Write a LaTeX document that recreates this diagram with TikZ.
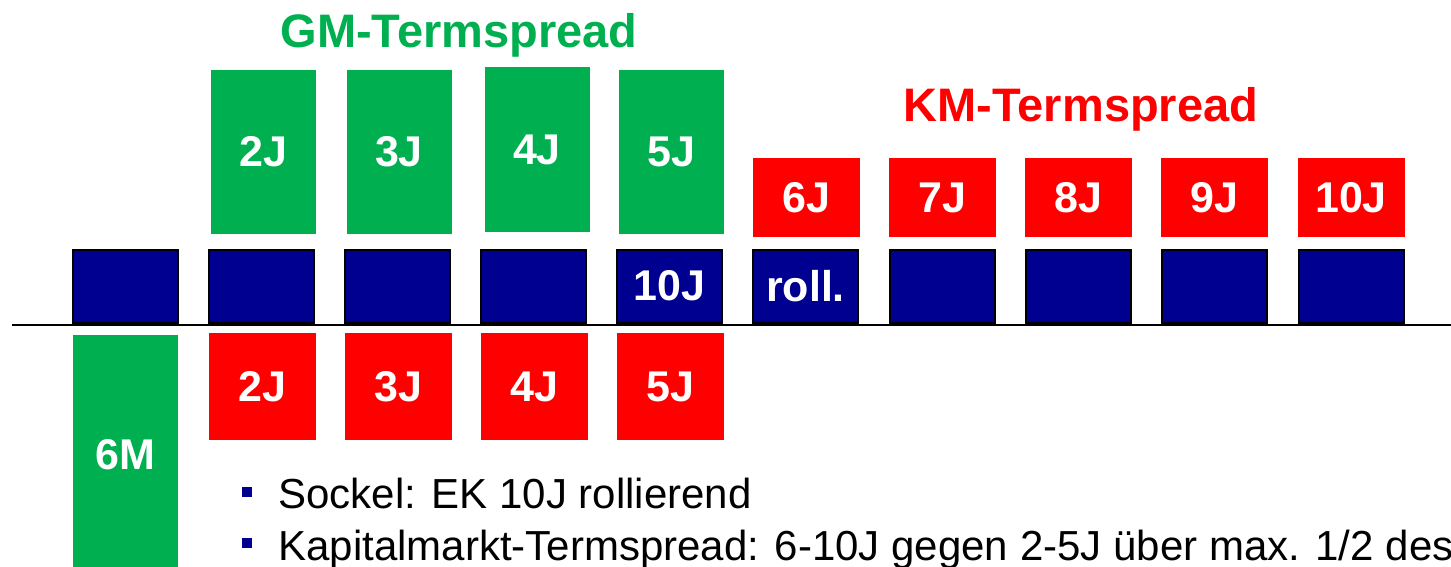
\documentclass[tikz,border=0pt]{standalone}
\usepackage{fontspec}
\setmainfont{Liberation Sans}
\definecolor{gmgreen}{RGB}{0,176,80}
\definecolor{kmred}{RGB}{255,0,0}
\definecolor{navyblue}{RGB}{0,0,144}
\begin{document}
\begin{tikzpicture}[x=1pt,y=-1pt,
  lbl/.style={font=\fontsize{43}{50}\selectfont\bfseries, text=white},
  boxbase/.style={inner sep=0pt, outer sep=0pt, lbl},
  gbox/.style={boxbase, fill=gmgreen, minimum width=105pt},
  rbox/.style={boxbase, fill=kmred, minimum width=107pt},
  bbox/.style={boxbase, fill=navyblue, draw=black, line width=2pt, minimum width=105pt, minimum height=73pt},
  title/.style={font=\fontsize{47}{55}\selectfont\bfseries, anchor=base},
  bullettext/.style={font=\fontsize{42}{50}\selectfont, anchor=base west, text=black},
  bulletsq/.style={fill=navyblue, inner sep=0pt, minimum size=10pt}
]
\clip (0,0) rectangle (1451,567);
% titles
\node[title, text=gmgreen] (gmt) at (459,48) {GM-Termspread};
\node[title, text=kmred] (kmt) at (1081,122) {KM-Termspread};
% top green boxes
\node[gbox, minimum height=164pt] (g2) at (263.5,152) {2J};
\node[gbox, minimum height=164pt] (g3) at (399,152) {3J};
\node[gbox, minimum height=165pt] (g4) at (537,149.5) {4J};
\node[gbox, minimum height=164pt] (g5) at (671,152) {5J};
% top red boxes
\node[rbox, minimum height=79pt] (r6) at (806.5,197.5) {6J};
\node[rbox, minimum height=79pt] (r7) at (942.5,197.5) {7J};
\node[rbox, minimum height=79pt] (r8) at (1078.5,197.5) {8J};
\node[rbox, minimum height=79pt] (r9) at (1214.5,197.5) {9J};
\node[rbox, minimum height=79pt] (r10) at (1351,197.5) {10J};
% baseline
\coordinate (l0) at (12,325);
\coordinate (l1) at (1460,325);
\draw[line width=2.2pt] (l0) -- (l1);
% blue boxes
\node[bbox] (b1) at (125.5,286) {};
\node[bbox] (b2) at (261.5,286) {};
\node[bbox] (b3) at (397.5,286) {};
\node[bbox] (b4) at (533.5,286) {};
\node[bbox] (b5) at (669.5,286) {10J};
\node[bbox] (b6) at (805.5,286) {roll.};
\node[bbox] (b7) at (942,286) {};
\node[bbox] (b8) at (1078,286) {};
\node[bbox] (b9) at (1214.5,286) {};
\node[bbox] (b10) at (1351,286) {};
% bottom red boxes
\node[rbox, minimum height=107pt] (d2) at (262.5,386.5) {2J};
\node[rbox, minimum height=107pt] (d3) at (398.5,386.5) {3J};
\node[rbox, minimum height=107pt] (d4) at (534.5,386.5) {4J};
\node[rbox, minimum height=107pt] (d5) at (670,386.5) {5J};
% 6M box
\node[gbox, minimum height=250pt, anchor=north] (m6) at (125.5,335) {};
\node[lbl] (m6t) at (125.5,455) {6M};
% bullets
\node[bulletsq] (s1) at (247,492) {};
\node[bullettext] (t1) at (275,508) {Sockel: EK 10J rollierend};
\node[bulletsq] (s2) at (247,543) {};
\node[bullettext] (t2) at (275,560) {Kapitalmarkt-Termspread: 6-10J gegen 2-5J über max. 1/2 des};
\end{tikzpicture}
\end{document}
